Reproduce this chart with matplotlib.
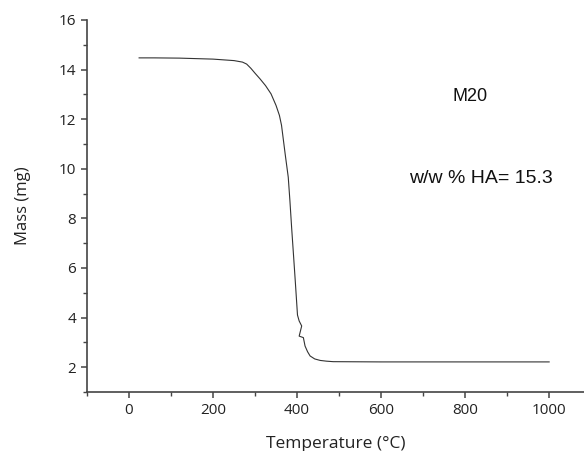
import numpy as np
import matplotlib.pyplot as plt
from matplotlib.ticker import MultipleLocator

# TGA curve
temp = [24, 60, 120, 200, 250, 270, 280, 290, 300, 312, 325, 338, 350, 358, 363, 366,
        372, 379, 383, 387, 392, 396, 401, 405, 411, 405, 415, 419, 425, 431, 442,
        455, 470, 486, 600, 800, 1000]
mass = [14.47, 14.47, 14.46, 14.42, 14.36, 14.30, 14.22, 14.05, 13.85, 13.62, 13.35,
        13.02, 12.55, 12.15, 11.75, 11.35, 10.55, 9.66, 8.70, 7.64, 6.40, 5.40, 4.10,
        3.86, 3.66, 3.25, 3.19, 2.85, 2.62, 2.45, 2.33, 2.27, 2.24, 2.22, 2.21, 2.21,
        2.21]

sample_name = 'M20'
ha_label = 'w/w % HA= 15.3'

plt.rcParams['font.family'] = ['Open Sans', 'DejaVu Sans']

fig = plt.figure(figsize=(5.84, 4.51), dpi=100)
ax = fig.add_axes([0.149, 0.131, 0.851, 0.8248])

ax.plot(temp, mass, color='#333333', lw=0.8)

ax.set_xlim(-100, 1083)
ax.set_ylim(1, 16)
ax.xaxis.set_major_locator(MultipleLocator(200))
ax.xaxis.set_minor_locator(MultipleLocator(100))
ax.yaxis.set_major_locator(MultipleLocator(2))
ax.yaxis.set_minor_locator(MultipleLocator(1))

for s in ['top', 'right']:
    ax.spines[s].set_visible(False)
for s in ['left', 'bottom']:
    ax.spines[s].set_color('#444444')
    ax.spines[s].set_linewidth(1.2)

ax.tick_params(which='major', length=4, width=1.1, color='#444444',
               labelsize=11, labelcolor='#222222', pad=4)
ax.tick_params(which='minor', length=3, width=1.0, color='#444444')

ax.set_xlabel('Temperature (°C)', fontsize=12.5, color='#222222', labelpad=13)
ax.set_ylabel('Mass (mg)', fontsize=12, color='#222222', labelpad=20)

ax.text(812, 12.9, sample_name, family='Liberation Sans', fontsize=13,
        ha='center', va='center', color='#111111')
ax.text(838, 9.6, ha_label, family='Liberation Sans', fontsize=14,
        ha='center', va='center', color='#111111')

fig.savefig('out.png', dpi=100)
